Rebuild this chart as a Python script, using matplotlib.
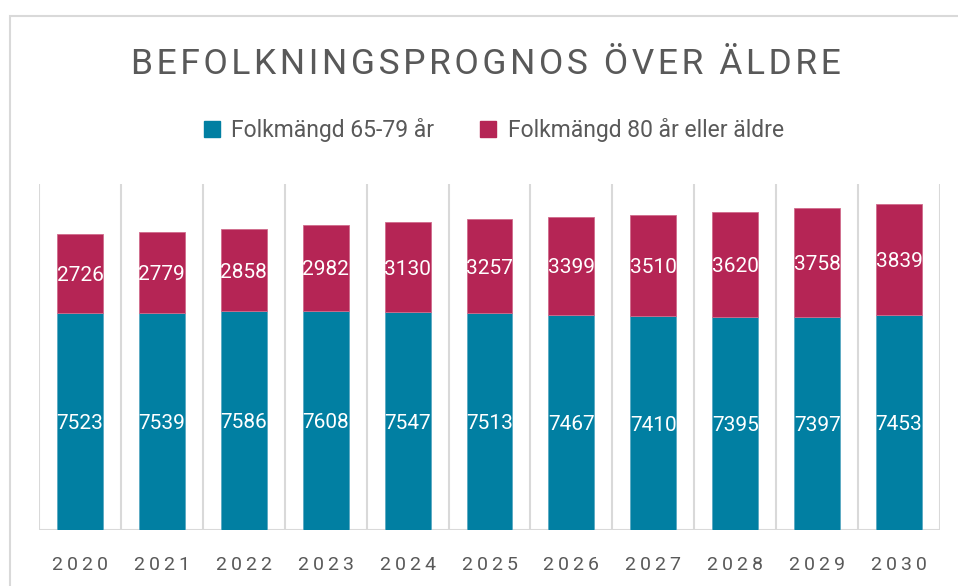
import matplotlib
matplotlib.use("Agg")
import matplotlib.pyplot as plt
from matplotlib.patches import Rectangle
import numpy as np

years = ["2020", "2021", "2022", "2023", "2024", "2025", "2026", "2027", "2028", "2029", "2030"]
age_65_79 = [7523, 7539, 7586, 7608, 7547, 7513, 7467, 7410, 7395, 7397, 7453]
age_80_plus = [2726, 2779, 2858, 2982, 3130, 3257, 3399, 3510, 3620, 3758, 3839]
series_names = ["Folkmängd 65-79 år", "Folkmängd 80 år eller äldre"]
title = "BEFOLKNINGSPROGNOS ÖVER ÄLDRE"

TEAL = "#017fa2"
CRIMSON = "#b52555"
GRAY_TXT = "#595959"
GRID = "#d9d9d9"

plt.rcParams['font.family'] = ['Roboto', 'DejaVu Sans']

fig = plt.figure(figsize=(9.58, 5.86), dpi=100)
W, H = 958, 586

# outer chart border (partially visible)
fig.patches.append(Rectangle((10 / W, -0.1), 1.2, (H - 16) / H + 0.1,
                             transform=fig.transFigure, fill=False,
                             edgecolor=GRID, linewidth=1.5))

ax = fig.add_axes([39 / W, 1 - 530 / H, (940 - 39) / W, (530 - 184) / H])
x = np.arange(len(years))
bw = 0.56
ax.bar(x, age_65_79, bw, color=TEAL, edgecolor="#5aa9c2", linewidth=0.6, zorder=3,
       label=series_names[0])
ax.bar(x, age_80_plus, bw, bottom=age_65_79, color=CRIMSON, edgecolor="#d06b8c",
       linewidth=0.6, zorder=3, label=series_names[1])

for xi, a, b in zip(x, age_65_79, age_80_plus):
    ax.text(xi, a / 2, str(a), ha="center", va="center_baseline", color="white",
            fontsize=15, zorder=4)
    ax.text(xi, a + b / 2, str(b), ha="center", va="center_baseline", color="white",
            fontsize=15, zorder=4)

ax.set_xlim(-0.5, len(years) - 0.5)
ax.set_ylim(0, 12000)
for b in np.arange(-0.5, len(years), 1.0):
    ax.axvline(b, color=GRID, linewidth=1.5, zorder=1)
for s in ax.spines.values():
    s.set_visible(False)
ax.axhline(0, color=GRID, linewidth=1.5, zorder=2)
ax.set_yticks([])
ax.set_xticks(x)
ax.set_xticklabels(["\u2009".join(y) for y in years], color=GRAY_TXT, fontsize=14)
ax.tick_params(axis="x", length=0, pad=19)

# title with letter spacing
fig.text(0.5 + 7 / W, 1 - 65 / H, "\u200a".join(title), ha="center", va="center",
         color=GRAY_TXT, fontsize=25.5)

# legend
handles = [Rectangle((0, 0), 1, 1, color=TEAL), Rectangle((0, 0), 1, 1, color=CRIMSON)]
fig.legend(handles, series_names, loc="center", bbox_to_anchor=(494 / W, 1 - 130 / H), ncol=2,
           frameon=False, fontsize=16.5, labelcolor=GRAY_TXT, handlelength=0.7,
           handleheight=0.7, handletextpad=0.5, columnspacing=2.0)

fig.savefig("out.png", dpi=100)
